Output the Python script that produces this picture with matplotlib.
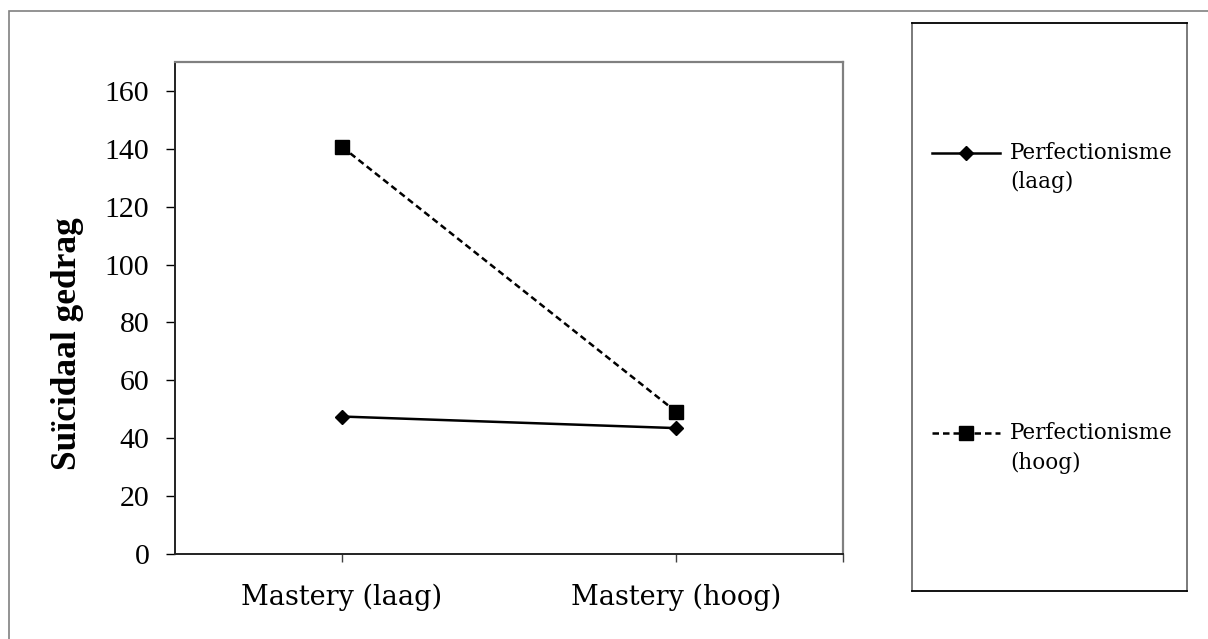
import matplotlib.pyplot as plt
from matplotlib.lines import Line2D
from matplotlib.patches import Rectangle

# data
categories = ['Mastery (laag)', 'Mastery (hoog)']
perf_laag = [47.5, 43.5]
perf_hoog = [140.7, 49.2]
series_labels = ['Perfectionisme\n(laag)', 'Perfectionisme\n(hoog)']
y_ticks = [0, 20, 40, 60, 80, 100, 120, 140, 160]

W, H = 1208, 639
fig = plt.figure(figsize=(W / 100, H / 100), dpi=100)

def fx(px):
    return px / W

def fy(py):
    return 1 - py / H

# outer chart frame (only top/left visible)
fig.add_artist(Rectangle((fx(9), fy(660)), 1.2, fy(11) - fy(660), transform=fig.transFigure,
                         fill=False, edgecolor='#808080', lw=1.2))

ax = fig.add_axes([fx(175), fy(554), fx(843) - fx(175), fy(62) - fy(554)])

styles = [
    dict(ls='-', marker='D', ms=7.5, color='black', lw=1.8),
    dict(ls=(0, (2.6, 1.6)), marker='s', ms=10, color='black', lw=1.8),
]
x = list(range(len(categories)))
for vals, st in zip([perf_laag, perf_hoog], styles):
    ax.plot(x, vals, **st)

ax.set_xlim(-0.5, 1.5)
ax.set_ylim(0, 170)
ax.set_yticks(y_ticks)
ax.set_yticklabels([str(v) for v in y_ticks], family='Liberation Serif', fontsize=21.5)
ax.set_xticks([0, 1, 1.5])
ax.set_xticklabels(categories + [''], family='DejaVu Serif', fontsize=19.5)
ax.tick_params(axis='y', direction='out', length=6.5, width=1, pad=12)
ax.tick_params(axis='x', direction='out', length=6, width=1, pad=15, color='#404040')

for s in ['left', 'bottom']:
    ax.spines[s].set_color('#222222')
    ax.spines[s].set_linewidth(1.4)
for s in ['top', 'right']:
    ax.spines[s].set_color('#808080')
    ax.spines[s].set_linewidth(1.6)

fig.text(fx(68), fy(344), 'Suïcidaal gedrag', rotation=90, ha='center', va='center',
         family='Liberation Serif', fontweight='bold', fontsize=25.5)

# legend box
lax = fig.add_axes([fx(912), fy(591), fx(1187) - fx(912), fy(23) - fy(591)])
lax.set_xlim(912, 1187)
lax.set_ylim(591, 23)
lax.set_xticks([])
lax.set_yticks([])
for s in ['top', 'bottom']:
    lax.spines[s].set_color('black')
for s in ['left', 'right']:
    lax.spines[s].set_color('#707070')
for s in lax.spines.values():
    s.set_linewidth(1.3)

entry_y = [152.7, 433]
for yy, st, lab in zip(entry_y, styles, series_labels):
    lax.add_line(Line2D([932, 966, 1000], [yy, yy, yy], markevery=[1], **st))
    lax.text(1010, yy - 11, lab, family='DejaVu Serif', fontsize=15.5, va='top', ha='left',
             linespacing=1.45)

fig.savefig('out.png', dpi=100)
